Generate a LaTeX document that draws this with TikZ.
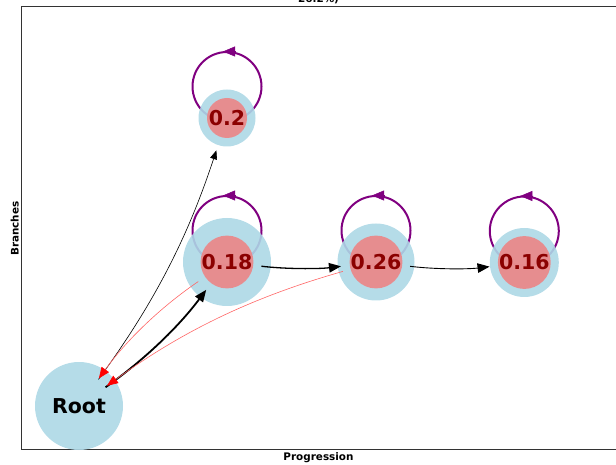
\documentclass[tikz,border=0pt]{standalone}
\usepackage{fontspec}
\setmainfont{DejaVu Sans}
\usetikzlibrary{arrows.meta,calc}
\definecolor{nodeblue}{RGB}{173,216,230}
\definecolor{nodered}{RGB}{240,128,128}
\definecolor{lblred}{RGB}{139,0,0}
\definecolor{loopcol}{RGB}{128,0,128}
\pgfdeclarelayer{bg}
\pgfsetlayers{bg,main}
\begin{document}
\begin{tikzpicture}[x=1pt,y=1pt,
  bluenode/.style={circle,fill=nodeblue,fill opacity=0.9,draw=none,inner sep=0pt,minimum size=#1},
  rednode/.style={circle,fill=nodered,fill opacity=0.85,text opacity=1,draw=none,inner sep=0pt,minimum size=#1},
  lbl/.style={font=\bfseries\fontsize{20.5}{24}\selectfont,text=lblred},
  rootlbl/.style={font=\bfseries\fontsize{20.5}{24}\selectfont,text=black},
  loopst/.style={draw=loopcol,line width=2pt},
  looptip/.style={draw=loopcol,fill=loopcol,line width=0.5pt,-{Triangle[length=12pt,width=10pt]}},
  blackedge/.style={draw=black,-{Triangle[length=12pt,width=9.5pt]}},
  thinedge/.style={draw=black,line width=0.6pt,-{Triangle[length=9pt,width=7pt]}},
  rededge/.style={draw=red!60,line width=0.6pt,-{Triangle[length=11pt,width=9pt,color=red]}},
  axlbl/.style={font=\bfseries\fontsize{10.4}{12}\selectfont},
  spine/.style={draw=black!80,line width=0.9pt}
]
\useasboundingbox (0,0) rectangle (616,464);

% axes frame
\coordinate (axbl) at (21,15);
\coordinate (axtl) at (21,458);
\coordinate (axtr) at (620,458);
\coordinate (axbr) at (620,15);
\draw[spine] (axbr) -- (axbl) -- (axtl) -- (axtr);

% title (cut off at top, as in the reference) and axis labels
\node[axlbl,anchor=base] (title) at (318.5,461) {26.2\%)};
\node[axlbl,anchor=base] (xlabel) at (318.5,4) {Progression};
\node[axlbl,anchor=base,rotate=90] (ylabel) at (18.5,235.3) {Branches};

% big nodes
\node[bluenode=88pt] (root) at (79,58) {};
\node[bluenode=57pt] (n02) at (227,346) {};
\node[bluenode=88pt] (n18) at (227,202) {};
\node[bluenode=77pt] (n26) at (376,202) {};
\node[bluenode=69pt] (n16) at (524.3,201.5) {};

% self loops (behind nodes)
\begin{pgfonlayer}{bg}
\foreach \n in {n02,n18,n26,n16}{
  \draw[loopst] ($(\n.center)+(0,31.5)$) circle[radius=34.5pt];
  \coordinate (t\n) at ($(\n.center)+(0,66.5)$);
  \draw[looptip] ([xshift=9pt]t\n) -- ([xshift=-4pt]t\n);
}
\end{pgfonlayer}

% edges
\draw[thinedge,shorten <=33pt,shorten >=34pt] (root.center) to[bend right=9] (n02.center);
\draw[blackedge,line width=1.8pt,shorten <=32.5pt,shorten >=34.7pt] (root.center) to[bend right=9] (n18.center);
\draw[rededge,shorten <=34.7pt,shorten >=34pt] (n18.center) to[bend right=10] (root.center);
\draw[rededge,shorten <=34.4pt,shorten >=34.5pt] (n26.center) to[bend right=10] (root.center);
\draw[blackedge,line width=1.3pt,shorten <=34.7pt,shorten >=35.3pt] (n18.center) to[bend right=7] (n26.center);
\draw[blackedge,line width=0.9pt,shorten <=34.3pt,shorten >=35pt] (n26.center) to[bend right=7] (n16.center);

% inner red circles with labels
\node[rednode=40pt,lbl] (r02) at (n02.center) {0.2};
\node[rednode=37pt,lbl] (r18) at (n18.center) {0.18};
\node[rednode=47pt,lbl] (r26) at (n26.center) {0.26};
\node[rednode=35pt,lbl] (r16) at (n16.center) {0.16};
\node[rootlbl] (rootlabel) at (root.center) {Root};
\end{tikzpicture}
\end{document}
